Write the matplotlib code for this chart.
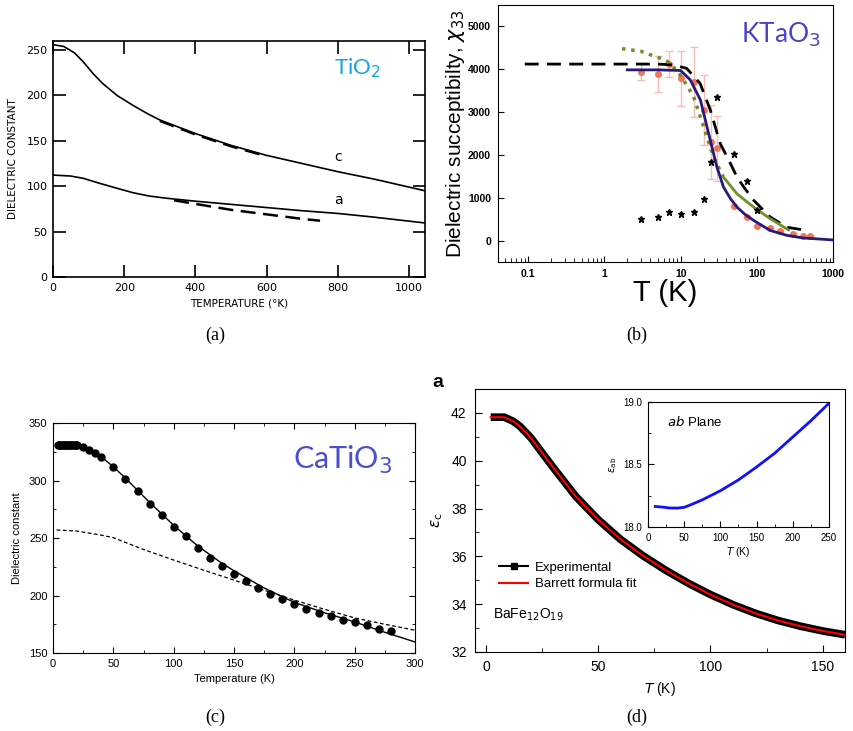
import numpy as np
import matplotlib
matplotlib.use('Agg')
import matplotlib.pyplot as plt
from matplotlib.lines import Line2D
from matplotlib.ticker import MultipleLocator

# ---- (a) TiO2 ----
tio2_c_T = [0, 30, 60, 85, 115, 140, 180, 225, 265, 300, 400, 500, 600, 700, 800, 900, 1045]
tio2_c = [256, 254, 247, 237, 223, 213, 200, 189, 180, 173, 158, 145, 134, 125, 116, 108, 95]
tio2_a_T = [0, 50, 85, 130, 180, 225, 270, 320, 400, 500, 600, 700, 800, 900, 1045]
tio2_a = [112.3, 111.2, 108.7, 103.3, 97.7, 92.8, 89.2, 86.7, 83.5, 80, 76.5, 73, 70, 66, 59.5]
tio2_c_dash_T = [300, 400, 500, 600]
tio2_c_dash = [172, 157, 144, 133]
tio2_a_dash_T = [340, 400, 500, 600, 700, 750]
tio2_a_dash = [84.5, 80.5, 74, 69, 64, 62]

# ---- (b) KTaO3 ----
kta_dash_T = [0.09, 1, 5, 8, 12, 18, 24.5, 33, 45, 55, 70, 91, 150, 250, 480]
kta_dash = [4120, 4120, 4120, 4100, 4020, 3670, 3050, 2270, 1800, 1480, 1210, 940, 550, 310, 230]
kta_fit_T = [2, 5, 10, 13.4, 18.2, 23.3, 29.9, 36.5, 45, 55, 70, 91, 150, 250, 412, 1000]
kta_fit = [3985, 3985, 3970, 3750, 3280, 2500, 1720, 1250, 980, 780, 610, 470, 235, 120, 60, 15]
kta_green_T = [1.7, 3, 4.4, 6, 7.3, 9.8, 12, 14.8, 20, 27, 36.5, 55, 91, 150, 260]
kta_green = [4480, 4420, 4310, 4230, 4140, 3870, 3630, 3360, 2660, 1950, 1480, 1090, 780, 510, 250]
kta_pts_T = [3, 5, 7, 10, 15, 20, 25, 30, 50, 75, 100, 150, 200, 300, 400, 500]
kta_pts = [3945, 3890, 4125, 3790, 3710, 3050, 2300, 2150, 800, 550, 350, 290, 235, 155, 115, 100]
kta_err = [200, 410, 300, 640, 820, 820, 860, 760, 0, 0, 0, 0, 0, 0, 0, 0]
kta_star_T = [3, 5, 7, 10, 15, 20, 25, 30, 50, 75, 100]
kta_star = [510, 560, 665, 625, 665, 980, 1835, 3345, 2030, 1390, 705]

# ---- (c) CaTiO3 ----
cat_pts_T = [4, 5, 6, 7, 8, 9, 10, 11, 12, 13, 14, 15, 16, 17, 18, 19, 20, 25, 30, 35, 40,
             50, 60, 70, 80, 90, 100, 110, 120, 130, 140, 150, 160, 170, 180, 190, 200,
             210, 220, 230, 240, 250, 260, 270, 280]
cat_pts = [331, 331, 331, 331, 331, 331, 331, 331, 331, 331, 331, 331, 331, 331, 330.8, 330.6, 330.5,
           328.8, 326.5, 324, 320.6, 312, 301.7, 290.7, 280, 270, 260, 251.7, 241.3, 233,
           225.9, 219, 212.8, 206.7, 201.7, 196.8, 192.7, 188.7, 185.2, 182, 179, 176.7,
           174, 171.2, 169.2]
cat_fit_T = [3, 10, 20, 25, 30, 40, 50, 60, 70, 80, 100, 120, 140, 150, 175, 200, 225, 250, 275, 300]
cat_fit = [331, 331, 330.5, 329.5, 327.5, 320.5, 312, 302, 291.5, 281, 261, 243, 228, 221.5,
           206.5, 194, 185, 177, 168, 159.6]
cat_dash_T = [3, 20, 40, 50, 75, 100, 125, 150, 175, 200, 225, 250, 275, 300]
cat_dash = [257, 256, 252.5, 250.3, 240, 230.8, 222, 213.4, 204.5, 196, 188, 180.5, 175, 169.8]

# ---- (d) BaFe12O19 ----
bfo_T = [2, 8, 12, 15, 20, 25, 30, 40, 50, 60, 70, 80, 90, 100, 110, 120, 130, 140, 150, 160]
bfo_eps = [41.82, 41.82, 41.65, 41.44, 40.95, 40.32, 39.7, 38.5, 37.53, 36.7, 36.02, 35.42,
           34.88, 34.4, 33.98, 33.62, 33.32, 33.08, 32.88, 32.72]
ab_T = [10, 20, 30, 40, 50, 60, 75, 100, 125, 150, 175, 200, 225, 250]
ab_eps = [18.164, 18.159, 18.152, 18.151, 18.157, 18.18, 18.217, 18.29, 18.377, 18.48,
          18.59, 18.72, 18.85, 18.99]

plt.rcParams['font.family'] = ['Liberation Sans', 'DejaVu Sans']
fig = plt.figure(figsize=(8.54, 7.31), dpi=100)

# (a)
ax = fig.add_axes([0.0621, 0.6211, 0.4356, 0.3228])
ax.plot(tio2_c_T, tio2_c, color='black', lw=1.2)
ax.plot(tio2_a_T, tio2_a, color='black', lw=1.2)
ax.plot(tio2_c_dash_T, tio2_c_dash, color='black', lw=1.8, dashes=(6, 3))
ax.plot(tio2_a_dash_T, tio2_a_dash, color='black', lw=1.8, dashes=(6, 3))
ax.text(790, 128, 'c', fontsize=10, family='DejaVu Sans')
ax.text(790, 80, 'a', fontsize=10, family='DejaVu Sans')
ax.text(855, 230, 'TiO$_2$', color='#19a2e6', fontsize=16, family='Lato', ha='center', va='center')
ax.set_xlim(0, 1045)
ax.set_ylim(0, 260)
ax.set_xticks([0, 200, 400, 600, 800, 1000])
ax.set_yticks([0, 50, 100, 150, 200, 250])
ax.tick_params(direction='in', length=9, width=1.2, top=True, right=True, labelsize=8, pad=4)
for lab in ax.get_xticklabels() + ax.get_yticklabels():
    lab.set_family('DejaVu Sans')
for s in ax.spines.values():
    s.set_linewidth(1.2)
ax.set_xlabel('TEMPERATURE (°K)', fontsize=7.5, family='DejaVu Sans', labelpad=4)
ax.set_ylabel('DIELECTRIC CONSTANT', fontsize=7.5, family='DejaVu Sans', labelpad=6)

# (b)
ax = fig.add_axes([0.5831, 0.6416, 0.3923, 0.3516])
ax.errorbar(kta_pts_T, kta_pts, yerr=kta_err, fmt='o', color='#f2745a', ms=4,
            ecolor='#f5beb5', elinewidth=1, capsize=3, zorder=2)
ax.plot(kta_dash_T, kta_dash, color='black', lw=2, dashes=(5, 3), zorder=3)
g_T = np.array(kta_green_T)
g_v = np.array(kta_green)
lo = g_T <= 36.5
hi = g_T >= 36.5
ax.plot(g_T[lo], g_v[lo], color='#6f8f2a', lw=2.5, ls=':', zorder=3)
ax.plot(g_T[hi], g_v[hi], color='#6f8f2a', lw=2, zorder=3)
ax.plot(kta_fit_T, kta_fit, color='#2a1a78', lw=2, zorder=4)
ax.plot(kta_star_T, kta_star, '*', color='black', ms=5, zorder=5)
ax.text(0.845, 0.883, 'KTaO$_3$', transform=ax.transAxes, color='#4b44c8', fontsize=19,
        family='Lato', ha='center', va='center')
ax.set_xscale('log')
ax.set_xlim(0.04, 1000)
ax.set_ylim(-500, 5500)
ax.set_xticks([0.1, 1, 10, 100, 1000])
ax.set_xticklabels(['0.1', '1', '10', '100', '1000'])
ax.set_yticks([0, 1000, 2000, 3000, 4000, 5000])
ax.tick_params(direction='in', which='both', labelsize=7.5, pad=5)
ax.tick_params(which='major', length=4)
ax.tick_params(which='minor', length=3)
for lab in ax.get_xticklabels() + ax.get_yticklabels():
    lab.set_fontweight('bold')
ax.set_xlabel('T (K)', fontsize=21, labelpad=0)
ax.set_ylabel('Dielectric succeptibilty, $\\chi_{33}$', fontsize=15, labelpad=1)

# (c)
ax = fig.add_axes([0.0621, 0.1067, 0.4239, 0.3146])
ax.plot(cat_fit_T, cat_fit, color='black', lw=1)
ax.plot(cat_dash_T, cat_dash, color='black', lw=0.9, dashes=(3, 2))
ax.plot(cat_pts_T, cat_pts, 'o', color='black', ms=5)
ax.text(240, 318, 'CaTiO$_3$', color='#4a4fd0', fontsize=22, family='Lato', ha='center', va='center')
ax.set_xlim(0, 300)
ax.set_ylim(150, 350)
ax.xaxis.set_major_locator(MultipleLocator(50))
ax.xaxis.set_minor_locator(MultipleLocator(25))
ax.yaxis.set_major_locator(MultipleLocator(50))
ax.yaxis.set_minor_locator(MultipleLocator(25))
ax.tick_params(direction='in', which='both', top=True, right=True, labelsize=8, pad=4)
ax.tick_params(which='major', length=4)
ax.tick_params(which='minor', length=2.5)
ax.set_xlabel('Temperature (K)', fontsize=8, labelpad=4)
ax.set_ylabel('Dielectric constant', fontsize=8, labelpad=5)

# (d)
ax = fig.add_axes([0.5562, 0.1081, 0.4333, 0.3598])
ax.plot(bfo_T, bfo_eps, color='black', lw=5.5, solid_capstyle='butt')
ax.plot(bfo_T, bfo_eps, color='red', lw=1.5)
handles = [Line2D([], [], color='black', lw=1.5, marker='s', ms=4),
           Line2D([], [], color='red', lw=1.5)]
ax.legend(handles, ['Experimental', 'Barrett formula fit'], loc='lower left',
          bbox_to_anchor=(0.04, 0.2), frameon=False, fontsize=9.5, handlelength=2.2,
          labelspacing=0.3, borderpad=0.2, handletextpad=0.5)
ax.text(3, 33.4, 'BaFe$_{12}$O$_{19}$', fontsize=10)
ax.text(-0.115, 1.055, 'a', transform=ax.transAxes, fontsize=14, fontweight='bold', va='top')
ax.set_xlim(-5, 160)
ax.set_ylim(32, 43)
ax.set_xticks([0, 50, 100, 150])
ax.xaxis.set_minor_locator(MultipleLocator(25))
ax.set_yticks([32, 34, 36, 38, 40, 42])
ax.yaxis.set_minor_locator(MultipleLocator(1))
ax.tick_params(direction='in', which='both', labelsize=10, pad=6)
ax.tick_params(which='major', length=5)
ax.tick_params(which='minor', length=3)
ax.set_xlabel('$T$ (K)', fontsize=10, labelpad=4)
ax.set_ylabel('$\\varepsilon_\\mathrm{c}$', fontsize=11, labelpad=4)

# inset
ins = fig.add_axes([0.7588, 0.2791, 0.2119, 0.1710])
ins.plot(ab_T, ab_eps, color='#1010ff', lw=2)
ins.text(26, 18.84, '$ab$ Plane', fontsize=9.5, va='center')
ins.set_xlim(0, 250)
ins.set_ylim(18.0, 19.0)
ins.xaxis.set_major_locator(MultipleLocator(50))
ins.xaxis.set_minor_locator(MultipleLocator(25))
ins.yaxis.set_major_locator(MultipleLocator(0.5))
ins.yaxis.set_minor_locator(MultipleLocator(0.25))
ins.tick_params(direction='in', which='both', labelsize=7, pad=4)
ins.tick_params(which='major', length=4)
ins.tick_params(which='minor', length=2.5)
ins.set_xlabel('$T$ (K)', fontsize=7.5, labelpad=2)
ins.set_ylabel('$\\varepsilon_\\mathrm{ab}$', fontsize=7.5, labelpad=3)

# captions
for x, y, s in [(215, 335, '(a)'), (637, 335, '(b)'), (215, 717, '(c)'), (637, 717, '(d)')]:
    fig.text(x / 854, 1 - y / 731, s, fontsize=13, family='Liberation Serif', ha='center', va='center')

fig.savefig('out.png', dpi=100)
